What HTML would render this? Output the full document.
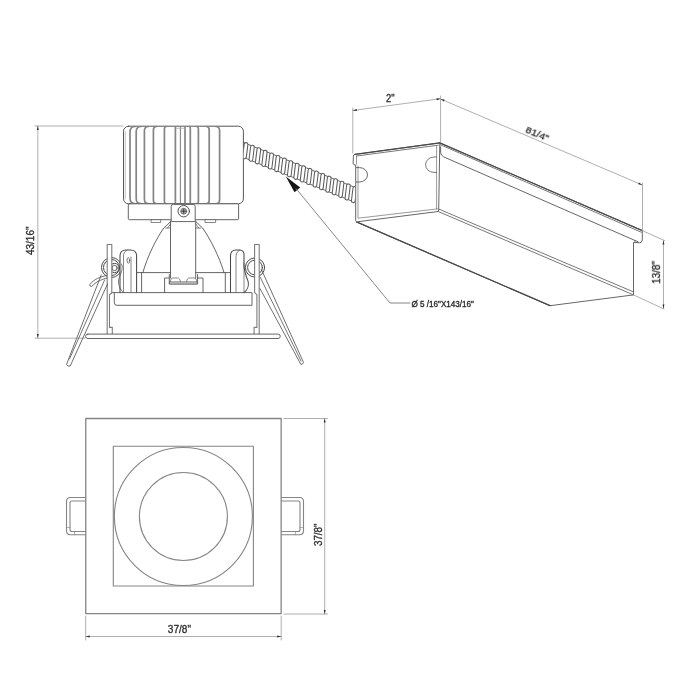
<!DOCTYPE html>
<html><head><meta charset="utf-8"><title>Spec drawing</title>
<style>
html,body{margin:0;padding:0;background:#fff;}
body{width:700px;height:700px;overflow:hidden;font-family:"Liberation Sans",sans-serif;}
svg{display:block;font-family:"Liberation Sans",sans-serif;}
</style></head><body>
<svg width="700" height="700" viewBox="0 0 700 700" stroke-linecap="round" stroke-linejoin="round">
<rect x="0" y="0" width="700" height="700" fill="#fff"/>
<line x1="35.00" y1="126.00" x2="123.00" y2="126.00" stroke="#9a9a9a" stroke-width="0.8" />
<line x1="35.00" y1="338.20" x2="85.00" y2="338.20" stroke="#9a9a9a" stroke-width="0.8" />
<line x1="37.80" y1="126.00" x2="37.80" y2="338.00" stroke="#9a9a9a" stroke-width="0.8" />
<polygon points="37.80,126.00 38.75,130.00 36.85,130.00" fill="#2a2a2a"/>
<polygon points="37.80,338.00 36.85,334.00 38.75,334.00" fill="#2a2a2a"/>
<rect x="123.50" y="126.20" width="119.90" height="77.60" rx="5" stroke="#555" stroke-width="1.0" fill="#fff" />
<path d="M125.3,131.5 L125.3,198.8" stroke="#a8a8a8" stroke-width="0.7" fill="none" />
<path d="M135.00,126.5 Q130.00,126.7 130.00,132.20 L130.00,198.00 Q130.00,203.5 135.00,203.7" stroke="#848484" stroke-width="1.7" fill="none" />
<path d="M140.80,126.5 Q136.20,126.7 136.20,131.80 L136.20,198.40 Q136.20,203.5 140.80,203.7" stroke="#848484" stroke-width="1.7" fill="none" />
<path d="M148.20,126.5 Q144.40,126.7 144.40,131.00 L144.40,199.20 Q144.40,203.5 148.20,203.7" stroke="#848484" stroke-width="1.7" fill="none" />
<path d="M156.20,126.5 Q153.40,126.7 153.40,130.00 L153.40,200.20 Q153.40,203.5 156.20,203.7" stroke="#848484" stroke-width="1.7" fill="none" />
<path d="M166.00,126.5 Q164.40,126.7 164.40,128.80 L164.40,201.40 Q164.40,203.5 166.00,203.7" stroke="#848484" stroke-width="1.7" fill="none" />
<path d="M189.50,126.5 Q190.30,126.7 190.30,128.00 L190.30,202.20 Q190.30,203.5 189.50,203.7" stroke="#848484" stroke-width="1.7" fill="none" />
<path d="M196.80,126.5 Q198.40,126.7 198.40,128.80 L198.40,201.40 Q198.40,203.5 196.80,203.7" stroke="#848484" stroke-width="1.7" fill="none" />
<path d="M206.60,126.5 Q209.20,126.7 209.20,129.80 L209.20,200.40 Q209.20,203.5 206.60,203.7" stroke="#848484" stroke-width="1.7" fill="none" />
<path d="M216.00,126.5 Q219.60,126.7 219.60,130.80 L219.60,199.40 Q219.60,203.5 216.00,203.7" stroke="#848484" stroke-width="1.7" fill="none" />
<line x1="175.40" y1="126.80" x2="175.40" y2="203.40" stroke="#848484" stroke-width="1.7" />
<line x1="185.00" y1="126.80" x2="185.00" y2="203.40" stroke="#848484" stroke-width="1.7" />
<line x1="180.40" y1="127.00" x2="180.40" y2="203.40" stroke="#848484" stroke-width="1.1" />
<line x1="176.00" y1="128.30" x2="185.00" y2="128.30" stroke="#aaa" stroke-width="0.7" />
<rect x="128.30" y="203.80" width="110.30" height="15.90" rx="1" stroke="#555" stroke-width="0.9" fill="#fff" />
<rect x="151.50" y="219.70" width="9.20" height="2.80" rx="0" stroke="#555" stroke-width="0.7" fill="#fff" />
<rect x="205.40" y="219.70" width="10.20" height="2.80" rx="0" stroke="#555" stroke-width="0.7" fill="#fff" />
<path d="M170.3,222 L163.8,228 C157,237.5 147,257 142.9,272.6" stroke="#555" stroke-width="0.9" fill="none" />
<path d="M165.6,228 L170.5,228 M170.5,224 L167.5,228" stroke="#555" stroke-width="0.7" fill="none" />
<path d="M196.2,222 L202.6,228 C209.4,237.5 219.6,257 224,272.6" stroke="#555" stroke-width="0.9" fill="none" />
<path d="M200.8,228 L195.8,228 M195.8,224 L198.8,228" stroke="#555" stroke-width="0.7" fill="none" />
<path d="M170.5,221.2 L170.5,278 M195.7,221.2 L195.7,278" stroke="#555" stroke-width="0.9" fill="none" />
<path d="M171.2,221.2 L171.2,206.5 Q171.2,204.4 173.5,204.4 L193,204.4 Q195.2,204.4 195.2,206.5 L195.2,221.2 Z" stroke="#555" stroke-width="0.9" fill="#fff" />
<circle cx="183.70" cy="211.20" r="5.70" stroke="#555" stroke-width="1.0" fill="#fff"/>
<circle cx="183.70" cy="211.20" r="3.00" stroke="#666" stroke-width="0.8" fill="#b0b0b0"/>
<path d="M181.6,211.2 L185.8,211.2 M183.7,209.1 L183.7,213.3" stroke="#333" stroke-width="0.9" fill="none" />
<path d="M136.8,272.6 L170.5,272.6 M141.6,272.6 L141.6,292.6" stroke="#555" stroke-width="0.9" fill="none" />
<path d="M230.5,272.6 L195.7,272.6 M225.3,272.6 L225.3,292.6" stroke="#555" stroke-width="0.9" fill="none" />
<path d="M164.6,292.6 L164.6,278 L169.3,278 M203,292.6 L203,278 L197.6,278" stroke="#555" stroke-width="0.9" fill="none" />
<path d="M169.3,274.6 L169.3,284 L197.6,284 L197.6,274.6" stroke="#555" stroke-width="0.9" fill="none" />
<rect x="169.80" y="281.70" width="27.30" height="2.30" rx="0" stroke="#555" stroke-width="0.5" fill="#bdbdbd" />
<path d="M170.3,281.7 Q170.6,278 173,278 L177.6,278 Q180,278 180.3,281.7 M186.6,281.7 Q186.9,278 189.3,278 L194,278 Q196.5,278 196.8,281.7" stroke="#555" stroke-width="0.7" fill="none" />
<circle cx="111.50" cy="267.50" r="10.00" stroke="#484848" stroke-width="1.0" fill="none"/>
<circle cx="111.50" cy="267.50" r="8.00" stroke="#484848" stroke-width="1.0" fill="none"/>
<circle cx="114.60" cy="268.00" r="4.60" stroke="#484848" stroke-width="1.0" fill="none"/>
<circle cx="114.60" cy="268.00" r="2.60" stroke="#484848" stroke-width="0.9" fill="none"/>
<path d="M120,292.6 L120,256 Q120,250 126,250 L130.5,250 Q136.6,250 136.6,256 L136.6,292.6" stroke="#484848" stroke-width="1.05" fill="#fff" />
<path d="M123.5,292.6 L123.5,255 Q123.8,251.3 127,250.2 M131,292.6 L131,257" stroke="#555" stroke-width="0.7" fill="none" />
<ellipse cx="128.3" cy="260.5" rx="1.3" ry="2.8" stroke="#404040" stroke-width="0.7" fill="none"/>
<path d="M121.5,264 C124.5,270 118,276 118.5,282 C119,287 120.5,290 122.5,291.5" stroke="#555" stroke-width="0.8" fill="none" />
<circle cx="255.00" cy="267.50" r="9.60" stroke="#484848" stroke-width="1.0" fill="none"/>
<circle cx="255.00" cy="267.50" r="7.40" stroke="#484848" stroke-width="1.0" fill="none"/>
<path d="M230.5,292.6 L230.5,256 Q230.5,250 236,250 L240,250 Q243.6,250.3 244,254 L244,263 C243.5,270 246,276 248,281 C249.2,286 247,290.5 244,292.6" stroke="#484848" stroke-width="1.05" fill="#fff" />
<path d="M236,292.6 L236,256 Q236.3,251.3 239.6,250.2 M244,263 L244,292.6" stroke="#555" stroke-width="0.7" fill="none" />
<path d="M109.6,294.6 L112,292.6 L252,292.6 L252,305.3 L117,305.3 Q114.3,305.3 114.3,302.8 L114.3,292.6" stroke="#555" stroke-width="0.9" fill="none" />
<path d="M107.2,334 L107.2,244.5 L111.8,244.5 L111.8,292.6 L109.5,294.6 L109.5,327.4 L112.3,327.4 L112.3,334" stroke="#7c7c7c" stroke-width="1.1" fill="#fff" />
<path d="M259.2,334 L259.2,244.5 L254.6,244.5 L254.6,292.6 L256.9,294.6 L256.9,327.4 L254.1,327.4 L254.1,334" stroke="#7c7c7c" stroke-width="1.1" fill="#fff" />
<rect x="85.60" y="334.10" width="194.60" height="4.40" rx="2.2" stroke="#555" stroke-width="0.9" fill="#fff" />
<path d="M101.2,275 L66.5,364.5 Q67.6,366.9 70.2,366 L107.5,284" stroke="#555" stroke-width="0.85" fill="none" />
<path d="M104.6,280 L69.5,359" stroke="#555" stroke-width="0.8" fill="none" />
<path d="M106.5,275.5 C100,277 94,279 89.8,284.6 Q89.5,286.4 91.6,286.6 C96,281.5 101,279.8 106.8,278" stroke="#555" stroke-width="0.85" fill="none" />
<path d="M261.5,269.7 L303.5,362.4 Q303,364.6 300.8,364.3 L260,288.6" stroke="#555" stroke-width="0.85" fill="none" />
<path d="M260,276.8 L301,361" stroke="#555" stroke-width="0.8" fill="none" />
<clipPath id="cc"><polygon points="243.6,130 355.2,160 355.2,215 243.6,180"/></clipPath>
<g clip-path="url(#cc)">
<line x1="244.32" y1="142.85" x2="358.43" y2="188.85" stroke="#686868" stroke-width="1.0" />
<line x1="239.17" y1="155.65" x2="353.28" y2="201.65" stroke="#686868" stroke-width="1.0" />
<rect x="-1.85" y="-8.1" width="3.7" height="16.2" rx="1.8" transform="translate(245.27 150.67) rotate(6.95)" fill="#fff" stroke="#5c5c5c" stroke-width="1.05"/>
<rect x="-1.85" y="-8.1" width="3.7" height="16.2" rx="1.8" transform="translate(251.67 153.25) rotate(6.95)" fill="#fff" stroke="#5c5c5c" stroke-width="1.05"/>
<rect x="-1.85" y="-8.1" width="3.7" height="16.2" rx="1.8" transform="translate(258.07 155.83) rotate(6.95)" fill="#fff" stroke="#5c5c5c" stroke-width="1.05"/>
<rect x="-1.85" y="-8.1" width="3.7" height="16.2" rx="1.8" transform="translate(264.47 158.41) rotate(6.95)" fill="#fff" stroke="#5c5c5c" stroke-width="1.05"/>
<rect x="-1.85" y="-8.1" width="3.7" height="16.2" rx="1.8" transform="translate(270.87 160.99) rotate(6.95)" fill="#fff" stroke="#5c5c5c" stroke-width="1.05"/>
<rect x="-1.85" y="-8.1" width="3.7" height="16.2" rx="1.8" transform="translate(277.27 163.57) rotate(6.95)" fill="#fff" stroke="#5c5c5c" stroke-width="1.05"/>
<rect x="-1.85" y="-8.1" width="3.7" height="16.2" rx="1.8" transform="translate(283.67 166.15) rotate(6.95)" fill="#fff" stroke="#5c5c5c" stroke-width="1.05"/>
<rect x="-1.85" y="-8.1" width="3.7" height="16.2" rx="1.8" transform="translate(290.07 168.73) rotate(6.95)" fill="#fff" stroke="#5c5c5c" stroke-width="1.05"/>
<rect x="-1.85" y="-8.1" width="3.7" height="16.2" rx="1.8" transform="translate(296.47 171.31) rotate(6.95)" fill="#fff" stroke="#5c5c5c" stroke-width="1.05"/>
<rect x="-1.85" y="-8.1" width="3.7" height="16.2" rx="1.8" transform="translate(302.87 173.89) rotate(6.95)" fill="#fff" stroke="#5c5c5c" stroke-width="1.05"/>
<rect x="-1.85" y="-8.1" width="3.7" height="16.2" rx="1.8" transform="translate(309.27 176.47) rotate(6.95)" fill="#fff" stroke="#5c5c5c" stroke-width="1.05"/>
<rect x="-1.85" y="-8.1" width="3.7" height="16.2" rx="1.8" transform="translate(315.67 179.05) rotate(6.95)" fill="#fff" stroke="#5c5c5c" stroke-width="1.05"/>
<rect x="-1.85" y="-8.1" width="3.7" height="16.2" rx="1.8" transform="translate(322.07 181.63) rotate(6.95)" fill="#fff" stroke="#5c5c5c" stroke-width="1.05"/>
<rect x="-1.85" y="-8.1" width="3.7" height="16.2" rx="1.8" transform="translate(328.47 184.21) rotate(6.95)" fill="#fff" stroke="#5c5c5c" stroke-width="1.05"/>
<rect x="-1.85" y="-8.1" width="3.7" height="16.2" rx="1.8" transform="translate(334.86 186.79) rotate(6.95)" fill="#fff" stroke="#5c5c5c" stroke-width="1.05"/>
<rect x="-1.85" y="-8.1" width="3.7" height="16.2" rx="1.8" transform="translate(341.26 189.37) rotate(6.95)" fill="#fff" stroke="#5c5c5c" stroke-width="1.05"/>
<rect x="-1.85" y="-8.1" width="3.7" height="16.2" rx="1.8" transform="translate(347.66 191.95) rotate(6.95)" fill="#fff" stroke="#5c5c5c" stroke-width="1.05"/>
<rect x="-1.85" y="-8.1" width="3.7" height="16.2" rx="1.8" transform="translate(354.06 194.53) rotate(6.95)" fill="#fff" stroke="#5c5c5c" stroke-width="1.05"/>
<rect x="-1.85" y="-8.1" width="3.7" height="16.2" rx="1.8" transform="translate(360.46 197.11) rotate(6.95)" fill="#fff" stroke="#5c5c5c" stroke-width="1.05"/>
</g>
<polygon points="285.8,176.5 294.5,192.2 300.2,187.5" fill="#151515"/>
<path d="M296,188.5 L390,303 L410,303" stroke="#7a7a7a" stroke-width="0.9" fill="none" />
<path d="M439.8,142.9 L642.3,230.6 L642.3,240 Q642,242.8 639.5,242.8 L635,242.4 L633.5,242.4 L633.5,294.9 L550,305.7 L356.5,221.9" stroke="#555" stroke-width="0.9" fill="#fff" />
<line x1="439.80" y1="142.90" x2="642.30" y2="230.60" stroke="#4a4a4a" stroke-width="1.15" />
<path d="M440.3,144.7 L641.2,232.2" stroke="#555" stroke-width="0.8" fill="none" />
<path d="M440.6,146.8 L440.6,152.5 Q441,155.5 443.5,156.8 L638.2,241.9" stroke="#555" stroke-width="0.9" fill="none" />
<path d="M438.7,209 L633.5,291.9" stroke="#555" stroke-width="0.8" fill="none" />
<path d="M438.2,211.5 L633.5,294.9" stroke="#555" stroke-width="0.8" fill="none" />
<path d="M635,242.4 L635,240.4" stroke="#555" stroke-width="0.6" fill="none" />
<line x1="356.50" y1="221.90" x2="550.00" y2="305.70" stroke="#484848" stroke-width="1.3" />
<path d="M353.4,156 Q353.4,154.6 354.9,154.4 L439.8,142.9 L438.7,210 L438.2,211.5 L356.5,221.9 L355.7,220.6 L355.7,165.6 L353.4,164 Z" stroke="#555" stroke-width="0.9" fill="#fff" />
<path d="M356.5,156.0 L438.2,145.2" stroke="#555" stroke-width="0.8" fill="none" />
<line x1="354.90" y1="154.40" x2="439.80" y2="142.90" stroke="#4a4a4a" stroke-width="1.2" />
<path d="M356.5,156.2 L356.5,163.5 Q356.3,165.6 355,165.6" stroke="#555" stroke-width="0.6" fill="none" />
<path d="M358,166 L358,218.2 L437.4,208.9" stroke="#555" stroke-width="0.6" fill="none" />
<path d="M436.6,146 L436.6,209" stroke="#555" stroke-width="0.6" fill="none" />
<path d="M356.5,167.6 L359.5,167.6 A8,7.2 0 0 1 359.5,182 L356.5,182" stroke="#555" stroke-width="0.9" fill="none" />
<path d="M436.6,157 L434,157 A8.4,7.7 0 0 0 434,172.4 L436.6,172.4" stroke="#555" stroke-width="0.8" fill="none" />
<line x1="352.80" y1="108.00" x2="352.80" y2="153.00" stroke="#9a9a9a" stroke-width="0.8" />
<line x1="440.60" y1="96.00" x2="440.60" y2="142.00" stroke="#9a9a9a" stroke-width="0.8" />
<line x1="352.80" y1="110.50" x2="440.60" y2="98.70" stroke="#9a9a9a" stroke-width="0.8" />
<polygon points="352.80,110.50 356.64,109.02 356.89,110.91" fill="#2a2a2a"/>
<polygon points="440.60,98.70 436.76,100.18 436.51,98.29" fill="#2a2a2a"/>
<line x1="440.60" y1="99.00" x2="642.30" y2="185.00" stroke="#9a9a9a" stroke-width="0.8" />
<polygon points="440.60,99.00 444.65,99.70 443.91,101.44" fill="#2a2a2a"/>
<polygon points="642.30,185.00 638.25,184.30 638.99,182.56" fill="#2a2a2a"/>
<line x1="642.50" y1="183.00" x2="642.50" y2="230.50" stroke="#9a9a9a" stroke-width="0.8" />
<line x1="641.90" y1="230.40" x2="664.60" y2="240.60" stroke="#9a9a9a" stroke-width="0.8" />
<line x1="633.50" y1="294.90" x2="664.00" y2="309.00" stroke="#9a9a9a" stroke-width="0.8" />
<line x1="663.50" y1="240.60" x2="663.50" y2="308.50" stroke="#9a9a9a" stroke-width="0.8" />
<polygon points="663.50,240.60 664.45,244.60 662.55,244.60" fill="#2a2a2a"/>
<polygon points="663.50,308.50 662.55,304.50 664.45,304.50" fill="#2a2a2a"/>
<path d="M85.7,497.5 L70.5,497.5 Q66.5,497.5 66.5,501.5 L66.5,530.8 Q66.5,534.8 70.5,534.8 L85.7,534.8" stroke="#858585" stroke-width="1.1" fill="none" />
<path d="M85.7,501 L72,501 Q70,501 70,503 L70,529.5 Q70,531.5 72,531.5 L85.7,531.5" stroke="#858585" stroke-width="1.1" fill="none" />
<path d="M66.5,527.5 L70,527.5 M74.5,531.5 L74.5,534.8" stroke="#858585" stroke-width="0.6" fill="none" />
<path d="M281.2,497.5 L299.5,497.5 Q303.5,497.5 303.5,501.5 L303.5,530.8 Q303.5,534.8 299.5,534.8 L281.2,534.8" stroke="#858585" stroke-width="1.1" fill="none" />
<path d="M281.2,501 L298,501 Q300,501 300,503 L300,529.5 Q300,531.5 298,531.5 L281.2,531.5" stroke="#858585" stroke-width="1.1" fill="none" />
<path d="M300,527.5 L303.5,527.5 M295.5,531.5 L295.5,534.8" stroke="#858585" stroke-width="0.6" fill="none" />
<rect x="85.75" y="418.50" width="195.40" height="195.10" rx="0" stroke="#858585" stroke-width="1.3" fill="#fff" />
<rect x="113.30" y="446.30" width="140.10" height="139.70" rx="0" stroke="#858585" stroke-width="1.1" fill="none" />
<circle cx="183.40" cy="516.50" r="69.00" stroke="#858585" stroke-width="1.1" fill="none"/>
<circle cx="183.40" cy="516.50" r="44.00" stroke="#858585" stroke-width="1.1" fill="none"/>
<line x1="284.00" y1="418.50" x2="327.50" y2="418.50" stroke="#9a9a9a" stroke-width="0.8" />
<line x1="284.00" y1="614.00" x2="327.50" y2="614.00" stroke="#9a9a9a" stroke-width="0.8" />
<line x1="324.70" y1="418.50" x2="324.70" y2="614.00" stroke="#9a9a9a" stroke-width="0.8" />
<polygon points="324.70,418.50 325.65,422.50 323.75,422.50" fill="#2a2a2a"/>
<polygon points="324.70,614.00 323.75,610.00 325.65,610.00" fill="#2a2a2a"/>
<line x1="85.70" y1="616.00" x2="85.70" y2="640.00" stroke="#9a9a9a" stroke-width="0.8" />
<line x1="281.20" y1="616.00" x2="281.20" y2="640.00" stroke="#9a9a9a" stroke-width="0.8" />
<line x1="85.70" y1="636.50" x2="281.20" y2="636.50" stroke="#9a9a9a" stroke-width="0.8" />
<polygon points="85.70,636.50 89.70,635.55 89.70,637.45" fill="#2a2a2a"/>
<polygon points="281.20,636.50 277.20,637.45 277.20,635.55" fill="#2a2a2a"/>
<g opacity="0.999">
<text x="34.00" y="255.00" font-size="10" text-anchor="start" fill="#2e2e2e" stroke="#2e2e2e" stroke-width="0.3" transform="rotate(-90 34.00 255.00)" textLength="28.5" lengthAdjust="spacingAndGlyphs">43/16"</text>
<text x="411.40" y="306.50" font-size="9.1" text-anchor="start" fill="#2a2a2a" stroke="#2a2a2a" stroke-width="0.35" textLength="62.6" lengthAdjust="spacingAndGlyphs">Ø 5 /16"X143/16"</text>
<text x="386.00" y="102.10" font-size="10" text-anchor="start" fill="#2e2e2e" stroke="#2e2e2e" stroke-width="0.3" textLength="8.6" lengthAdjust="spacingAndGlyphs">2"</text>
<text x="524.80" y="132.30" font-size="9.7" text-anchor="start" fill="#2e2e2e" stroke="#2e2e2e" stroke-width="0.3" transform="rotate(23 524.80 132.30)" textLength="24.2" lengthAdjust="spacingAndGlyphs">81/4"</text>
<text x="659.90" y="283.90" font-size="10" text-anchor="start" fill="#2e2e2e" stroke="#2e2e2e" stroke-width="0.3" transform="rotate(-90 659.90 283.90)" textLength="22.9" lengthAdjust="spacingAndGlyphs">13/8"</text>
<text x="322.00" y="546.00" font-size="10" text-anchor="start" fill="#2e2e2e" stroke="#2e2e2e" stroke-width="0.3" transform="rotate(-90 322.00 546.00)" textLength="22.5" lengthAdjust="spacingAndGlyphs">37/8"</text>
<text x="167.80" y="633.00" font-size="10" text-anchor="start" fill="#2e2e2e" stroke="#2e2e2e" stroke-width="0.3" textLength="23.2" lengthAdjust="spacingAndGlyphs">37/8"</text>
</g>
</svg>
</body></html>
